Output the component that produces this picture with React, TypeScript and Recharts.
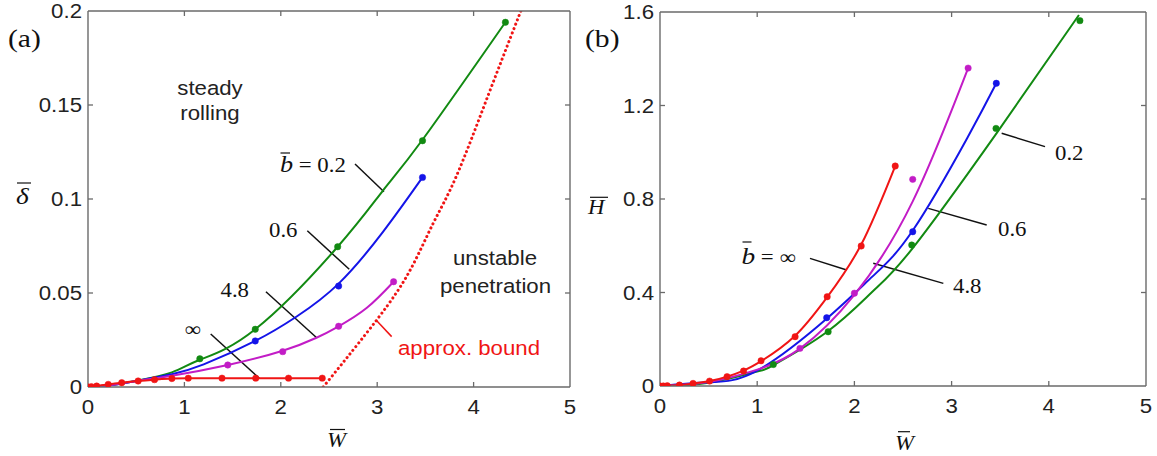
import React from 'react';
import { ComposedChart, Line, XAxis, YAxis, ReferenceLine } from 'recharts';

type P = { x: number; y: number };

const xTicks = [0, 1, 2, 3, 4, 5];
const aYTicks = [0, 0.05, 0.1, 0.15, 0.2];
const bYTicks = [0, 0.4, 0.8, 1.2, 1.6];

// ---------- panel (a): delta vs W ----------
const aGreenCurve: P[] = [
  { x: 0, y: 0 }, { x: 0.26, y: 0.0012 }, { x: 0.52, y: 0.0035 }, { x: 0.87, y: 0.0078 },
  { x: 1.16, y: 0.0145 }, { x: 1.735, y: 0.0307 }, { x: 2.59, y: 0.0746 }, { x: 3.06, y: 0.1045 },
  { x: 3.47, y: 0.1315 }, { x: 4.33, y: 0.194 },
];
const aBlueCurve: P[] = [
  { x: 0, y: 0 }, { x: 0.26, y: 0.0012 }, { x: 0.52, y: 0.0034 }, { x: 0.87, y: 0.0068 },
  { x: 1.2, y: 0.012 }, { x: 1.735, y: 0.0245 }, { x: 2.165, y: 0.0375 }, { x: 2.6, y: 0.055 },
  { x: 3.06, y: 0.0825 }, { x: 3.47, y: 0.1115 },
];
const aMagentaCurve: P[] = [
  { x: 0, y: 0 }, { x: 0.26, y: 0.0012 }, { x: 0.52, y: 0.0033 }, { x: 0.87, y: 0.006 },
  { x: 1.45, y: 0.0117 }, { x: 2.02, y: 0.0193 }, { x: 2.37, y: 0.0262 }, { x: 2.6, y: 0.0323 },
  { x: 2.89, y: 0.042 }, { x: 3.17, y: 0.056 },
];
const aRedCurve: P[] = [
  { x: 0, y: 0 }, { x: 0.035, y: 0.0002 }, { x: 0.09, y: 0.0005 }, { x: 0.21, y: 0.0014 },
  { x: 0.35, y: 0.0023 }, { x: 0.52, y: 0.0032 }, { x: 0.69, y: 0.0039 }, { x: 0.87, y: 0.0045 },
  { x: 1.04, y: 0.0047 }, { x: 1.39, y: 0.0047 }, { x: 1.74, y: 0.0047 }, { x: 2.08, y: 0.0047 },
  { x: 2.43, y: 0.0047 },
];
const aBound: P[] = [
  { x: 2.44, y: 0 }, { x: 3.0, y: 0.036 }, { x: 3.34, y: 0.062 }, { x: 3.58, y: 0.087 },
  { x: 3.82, y: 0.112 }, { x: 4.15, y: 0.155 }, { x: 4.49, y: 0.2 },
];
const aGreenPts: P[] = [
  { x: 1.16, y: 0.015 }, { x: 1.735, y: 0.0307 }, { x: 2.59, y: 0.0746 }, { x: 3.47, y: 0.131 }, { x: 4.33, y: 0.194 },
];
const aBluePts: P[] = [{ x: 1.735, y: 0.0245 }, { x: 2.6, y: 0.0537 }, { x: 3.47, y: 0.1115 }];
const aMagentaPts: P[] = [{ x: 1.45, y: 0.0117 }, { x: 2.02, y: 0.0188 }, { x: 2.6, y: 0.0323 }, { x: 3.17, y: 0.056 }];
const aRedPts: P[] = aRedCurve;

// ---------- panel (b): H vs W ----------
const bRedCurve: P[] = [
  { x: 0, y: 0 }, { x: 0.2, y: 0.004 }, { x: 0.34, y: 0.011 }, { x: 0.51, y: 0.021 }, { x: 0.69, y: 0.04 },
  { x: 0.86, y: 0.066 }, { x: 1.04, y: 0.106 }, { x: 1.39, y: 0.215 }, { x: 1.72, y: 0.38 },
  { x: 2.07, y: 0.605 }, { x: 2.42, y: 0.941 },
];
const bMagentaCurve: P[] = [
  { x: 0, y: 0 }, { x: 0.5, y: 0.017 }, { x: 1.0, y: 0.07 }, { x: 1.44, y: 0.16 }, { x: 2.0, y: 0.39 },
  { x: 2.6, y: 0.79 }, { x: 3.17, y: 1.36 },
];
const bBlueCurve: P[] = [
  { x: 0, y: 0 }, { x: 0.5, y: 0.016 }, { x: 1.0, y: 0.066 }, { x: 1.72, y: 0.29 }, { x: 2.19, y: 0.47 },
  { x: 2.6, y: 0.665 }, { x: 3.16, y: 1.06 }, { x: 3.46, y: 1.295 },
];
const bGreenCurve: P[] = [
  { x: 0, y: 0 }, { x: 0.5, y: 0.014 }, { x: 1.0, y: 0.062 }, { x: 1.17, y: 0.09 }, { x: 1.72, y: 0.232 },
  { x: 2.19, y: 0.405 }, { x: 2.6, y: 0.59 }, { x: 3.46, y: 1.08 }, { x: 4.31, y: 1.587 },
];
const bRedPts: P[] = [
  { x: 0, y: 0 }, { x: 0.034, y: 0 }, { x: 0.075, y: 0.001 }, { x: 0.2, y: 0.004 }, { x: 0.34, y: 0.011 },
  { x: 0.51, y: 0.021 }, { x: 0.69, y: 0.04 }, { x: 0.86, y: 0.064 }, { x: 1.04, y: 0.108 },
  { x: 1.39, y: 0.211 }, { x: 1.72, y: 0.382 }, { x: 2.07, y: 0.599 }, { x: 2.42, y: 0.941 },
];
const bGreenPts: P[] = [
  { x: 1.166, y: 0.092 }, { x: 1.73, y: 0.232 }, { x: 2.59, y: 0.603 }, { x: 3.457, y: 1.102 }, { x: 4.32, y: 1.563 },
];
const bBluePts: P[] = [{ x: 1.715, y: 0.292 }, { x: 2.6, y: 0.66 }, { x: 3.46, y: 1.295 }];
const bMagentaPts: P[] = [{ x: 1.44, y: 0.161 }, { x: 2.0, y: 0.397 }, { x: 2.6, y: 0.884 }, { x: 3.17, y: 1.36 }];

// annotation leader segments (data coordinates)
const aLeaders: P[][] = [
  [{ x: 2.77, y: 0.1186 }, { x: 3.07, y: 0.1039 }],
  [{ x: 2.275, y: 0.0831 }, { x: 2.71, y: 0.0626 }],
  [{ x: 1.846, y: 0.0507 }, { x: 2.372, y: 0.0262 }],
  [{ x: 1.273, y: 0.0282 }, { x: 1.777, y: 0.0046 }],
];
const aBoundLeader: P[] = [{ x: 2.988, y: 0.0356 }, { x: 3.15, y: 0.0268 }];
const bLeaders: P[][] = [
  [{ x: 3.515, y: 1.081 }, { x: 3.961, y: 1.024 }],
  [{ x: 2.76, y: 0.76 }, { x: 3.361, y: 0.689 }],
  [{ x: 2.194, y: 0.525 }, { x: 2.915, y: 0.439 }],
  [{ x: 1.543, y: 0.546 }, { x: 1.921, y: 0.496 }],
];

const GREEN = '#128a12';
const BLUE = '#1414e8';
const MAGENTA = '#c21cc6';
const RED = '#f01515';
const AXIS = '#6a6a6a';
const SX = 1.14;
const SANS = '"Liberation Sans", Arial, sans-serif';
const SERIF = '"Liberation Serif", "Times New Roman", serif';
const TICK_PX = 5;
const CH = 456;
const Y_AXIS_W = 60;
const X_AXIS_H = 60;

type Geo = { left: number; width: number; margin: { top: number; right: number; bottom: number; left: number } };
const geoA: Geo = { left: 0, width: 580, margin: { top: 10, right: 9, bottom: 9, left: 28 } };
const geoB: Geo = { left: 580, width: 577, margin: { top: 11, right: 10, bottom: 10, left: 20 } };

function plotBox(g: Geo) {
  const x0 = g.left + g.margin.left + Y_AXIS_W;
  const x1 = g.left + g.width - g.margin.right - 1;
  const y0 = g.margin.top + 1;
  const y1 = CH - g.margin.bottom - X_AXIS_H;
  return { x0, x1, y0, y1 };
}

function XTick(props: any) {
  const { x, y, payload } = props;
  return (
    <text transform={`translate(${x},${y + 14}) scale(${SX},1)`} textAnchor="middle"
      fontFamily={SANS} fontSize={19.5} fill="#222">{String(payload.value)}</text>
  );
}
function YTick(props: any) {
  const { x, y, payload } = props;
  return (
    <text transform={`translate(${x},${y + 7}) scale(${SX},1)`} textAnchor="end"
      fontFamily={SANS} fontSize={19.5} fill="#222">{String(payload.value)}</text>
  );
}

function curve(key: string, data: P[], color: string, type: any = 'natural') {
  return (
    <Line key={key} data={data} dataKey="y" type={type} stroke={color} strokeWidth={2}
      dot={false} isAnimationActive={false} activeDot={false} />
  );
}
function markers(key: string, data: P[], color: string) {
  return (
    <Line key={key} data={data} dataKey="y" stroke="none" strokeWidth={0}
      dot={{ r: 3.2, fill: color, stroke: color, strokeWidth: 0.5 }} isAnimationActive={false} activeDot={false} />
  );
}

// inward ticks on all four sides, placed with the same linear mapping the axes use
function InwardTicks({ g, yTicks, yMax }: { g: Geo; yTicks: number[]; yMax: number }) {
  const b = plotBox(g);
  const sx = (v: number) => b.x0 + (v / 5) * (b.x1 - b.x0);
  const sy = (v: number) => b.y1 - (v / yMax) * (b.y1 - b.y0);
  const out: React.ReactNode[] = [];
  xTicks.slice(1, -1).forEach((t, i) => {
    out.push(<line key={'xb' + i} x1={sx(t)} x2={sx(t)} y1={b.y1} y2={b.y1 - TICK_PX} stroke={AXIS} strokeWidth={1.3} />);
    out.push(<line key={'xt' + i} x1={sx(t)} x2={sx(t)} y1={b.y0} y2={b.y0 + TICK_PX} stroke={AXIS} strokeWidth={1.3} />);
  });
  yTicks.slice(1, -1).forEach((t, i) => {
    out.push(<line key={'yl' + i} x1={b.x0} x2={b.x0 + TICK_PX} y1={sy(t)} y2={sy(t)} stroke={AXIS} strokeWidth={1.3} />);
    out.push(<line key={'yr' + i} x1={b.x1} x2={b.x1 - TICK_PX} y1={sy(t)} y2={sy(t)} stroke={AXIS} strokeWidth={1.3} />);
  });
  return <g>{out}</g>;
}

function Panel(props: { g: Geo; yTicks: number[]; yMax: number; children: React.ReactNode }) {
  const { g, yTicks, yMax, children } = props;
  const axisLine = { stroke: AXIS, strokeWidth: 1.4 };
  return (
    <ComposedChart width={g.width} height={CH} margin={g.margin}>
      <XAxis xAxisId="top" type="number" dataKey="x" domain={[0, 5]} ticks={xTicks} allowDataOverflow
        orientation="top" height={1} axisLine={axisLine} tickLine={false} tick={false} interval={0} />
      <YAxis yAxisId="right" type="number" domain={[0, yMax]} ticks={yTicks} allowDataOverflow
        orientation="right" width={1} axisLine={axisLine} tickLine={false} tick={false} interval={0} />
      <XAxis xAxisId={0} type="number" dataKey="x" domain={[0, 5]} ticks={xTicks} allowDataOverflow
        orientation="bottom" height={X_AXIS_H} tickSize={0} tickMargin={13} axisLine={axisLine} tickLine={false}
        tick={<XTick />} interval={0} />
      <YAxis yAxisId={0} type="number" domain={[0, yMax]} ticks={yTicks} allowDataOverflow
        orientation="left" width={Y_AXIS_W} tickSize={0} tickMargin={6} axisLine={axisLine} tickLine={false}
        tick={<YTick />} interval={0} />
      {children}
    </ComposedChart>
  );
}

function Bar({ x1, x2, y }: { x1: number; x2: number; y: number }) {
  return <line x1={x1} x2={x2} y1={y} y2={y} stroke="#111" strokeWidth={1.2} />;
}
function T(props: { x: number; y: number; size: number; family: string; anchor?: string; fill?: string; italic?: boolean; children: React.ReactNode }) {
  const { x, y, size, family, anchor = 'start', fill = '#111', italic = false, children } = props;
  return (
    <text transform={`translate(${x},${y}) scale(${SX},1)`} fontSize={size} fontFamily={family}
      textAnchor={anchor as any} fill={fill} fontStyle={italic ? 'italic' : 'normal'}>{children}</text>
  );
}

export default function App() {
  const leaderStyle = { stroke: '#111', strokeWidth: 1.5 };
  return (
    <div style={{ position: 'absolute', left: 0, top: 0, width: 1157, height: 456, background: '#fff' }}>
      <div style={{ position: 'absolute', left: geoA.left, top: 0 }}>
        <Panel g={geoA} yTicks={aYTicks} yMax={0.2}>
          {aLeaders.map((s, i) => (
            <ReferenceLine key={'la' + i} segment={s as any} {...leaderStyle} />
          ))}
          <ReferenceLine segment={aBoundLeader as any} stroke={RED} strokeWidth={1.5} />
          {curve('ag', aGreenCurve, GREEN)}
          {curve('ab', aBlueCurve, BLUE)}
          {curve('am', aMagentaCurve, MAGENTA)}
          {curve('ar', aRedCurve, RED, 'monotone')}
          <Line data={aBound} dataKey="y" type="natural" stroke={RED} strokeWidth={3}
            strokeDasharray="0.1 4.6" strokeLinecap="round" dot={false} isAnimationActive={false} activeDot={false} />
          {markers('agp', aGreenPts, GREEN)}
          {markers('abp', aBluePts, BLUE)}
          {markers('amp', aMagentaPts, MAGENTA)}
          {markers('arp', aRedPts, RED)}
        </Panel>
      </div>
      <div style={{ position: 'absolute', left: geoB.left, top: 0 }}>
        <Panel g={geoB} yTicks={bYTicks} yMax={1.6}>
          {bLeaders.map((s, i) => (
            <ReferenceLine key={'lb' + i} segment={s as any} {...leaderStyle} />
          ))}
          {curve('bg', bGreenCurve, GREEN)}
          {curve('bb', bBlueCurve, BLUE)}
          {curve('bm', bMagentaCurve, MAGENTA)}
          {curve('br', bRedCurve, RED)}
          {markers('bgp', bGreenPts, GREEN)}
          {markers('bbp', bBluePts, BLUE)}
          {markers('bmp', bMagentaPts, MAGENTA)}
          {markers('brp', bRedPts, RED)}
        </Panel>
      </div>
      <svg width={1157} height={456} style={{ position: 'absolute', left: 0, top: 0, pointerEvents: 'none' }}>
        <InwardTicks g={geoA} yTicks={aYTicks} yMax={0.2} />
        <InwardTicks g={geoB} yTicks={bYTicks} yMax={1.6} />
        {/* panel (a) texts */}
        <T x={8} y={47} size={26} family={SERIF}>(a)</T>
        <T x={16} y={204} size={24} family={SERIF} italic>δ</T>
        <Bar x1={17} x2={31} y={183} />
        <T x={327} y={447} size={20} family={SERIF} italic>W</T>
        <Bar x1={330} x2={345} y={429.5} />
        <T x={210} y={95} size={19.5} family={SANS} anchor="middle" fill="#222">steady</T>
        <T x={210} y={120} size={19.5} family={SANS} anchor="middle" fill="#222">rolling</T>
        <T x={495} y={265} size={19.5} family={SANS} anchor="middle" fill="#222">unstable</T>
        <T x={495.5} y={292.5} size={19.5} family={SANS} anchor="middle" fill="#222">penetration</T>
        <T x={398} y={354.5} size={19.5} family={SANS} fill={RED}>approx. bound</T>
        <T x={280} y={172} size={20} family={SERIF}><tspan fontStyle="italic" fontSize={23}>b</tspan> = 0.2</T>
        <Bar x1={280.5} x2={290} y={153} />
        <T x={269} y={236.7} size={20} family={SERIF}>0.6</T>
        <T x={220.5} y={297.3} size={20} family={SERIF}>4.8</T>
        <T x={184.5} y={336} size={20} family={SERIF}>∞</T>
        {/* panel (b) texts */}
        <T x={585} y={47} size={26} family={SERIF}>(b)</T>
        <T x={588} y={214} size={20} family={SERIF} italic>H</T>
        <Bar x1={590} x2={608} y={197.3} />
        <T x={895} y={450} size={20} family={SERIF} italic>W</T>
        <Bar x1={898} x2={910} y={431.7} />
        <T x={1055} y={160} size={20} family={SERIF}>0.2</T>
        <T x={998} y={235.5} size={20} family={SERIF}>0.6</T>
        <T x={953} y={293.3} size={20} family={SERIF}>4.8</T>
        <T x={741.5} y={264} size={20} family={SERIF}><tspan fontStyle="italic" fontSize={24}>b</tspan> = ∞</T>
        <Bar x1={742.5} x2={751.5} y={242} />
      </svg>
    </div>
  );
}
